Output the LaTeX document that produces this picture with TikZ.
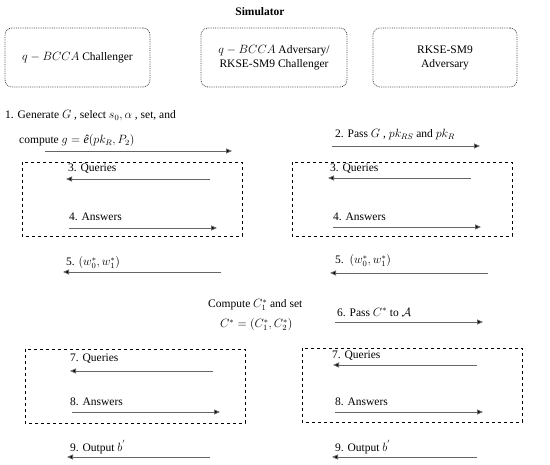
\documentclass[tikz,border=0pt]{standalone}
\usepackage{fontspec}
\setmainfont{Liberation Serif}
\usetikzlibrary{arrows.meta}
\tikzset{
  party/.style={draw=black!75, densely dotted, line width=0.8pt, rounded corners=7pt, align=center, font=\fontsize{11.5}{14}\selectfont},
  phase/.style={draw=black, dashed, line width=0.8pt},
  msg/.style={draw=black!60, line width=0.9pt, -{Triangle[length=6pt,width=5pt,fill=black]}},
  lbl/.style={anchor=west, inner sep=0pt, font=\fontsize{11.5}{13}\selectfont},
}
\begin{document}
\begin{tikzpicture}[x=1pt,y=-1pt]
\useasboundingbox (0,0) rectangle (550,465);
\node[font=\bfseries\fontsize{11.5}{13}\selectfont] (title) at (260,12) {Simulator};
\node[party, minimum width=145pt, minimum height=59pt] (p1) at (77.5,57.5) {$q-BCCA$ Challenger};
\node[party, minimum width=146pt, minimum height=59pt] (p2) at (274,57.5) {$q-BCCA$ Adversary/\\RKSE-SM9 Challenger};
\node[party, minimum width=144pt, minimum height=59pt] (p3) at (445,57.5) {RKSE-SM9\\Adversary};

% step 1
\node[lbl] (t1a) at (5,116) {1. Generate {\large$G$} , select $s_0,\alpha$ , set, and};
\node[lbl] (t1b) at (19,141) {compute $g=\mbox{\itshape\large ê}(pk_R,P_2)$};
\coordinate (a1s) at (45,151); \coordinate (a1e) at (232,151);
\draw[msg] (a1s) -- (a1e);
% step 2
\node[lbl] (t2) at (335,135) {2. Pass {\large$G$} , {\large$pk_{RS}$} and {\large$pk_R$}};
\coordinate (a2s) at (332,146); \coordinate (a2e) at (480,146);
\draw[msg] (a2s) -- (a2e);

% left phase 1
\draw[phase] (22,162) rectangle (242,236);
\node[lbl] (t3l) at (68,169) {3. Queries};
\coordinate (a3ls) at (210,179); \coordinate (a3le) at (66,179);
\draw[msg] (a3ls) -- (a3le);
\node[lbl] (t4l) at (69,217) {4. Answers};
\coordinate (a4ls) at (69,228); \coordinate (a4le) at (217,228);
\draw[msg] (a4ls) -- (a4le);
% right phase 1
\draw[phase] (292,162) rectangle (512,236);
\node[lbl] (t3r) at (330,169) {3. Queries};
\coordinate (a3rs) at (471,178); \coordinate (a3re) at (328,178);
\draw[msg] (a3rs) -- (a3re);
\node[lbl] (t4r) at (333,217) {4. Answers};
\coordinate (a4rs) at (333,227); \coordinate (a4re) at (481,227);
\draw[msg] (a4rs) -- (a4re);

% step 5
\node[lbl] (t5l) at (66,263) {5. $\left(w_0^*,w_1^*\right)$};
\coordinate (a5ls) at (221,272); \coordinate (a5le) at (63,272);
\draw[msg] (a5ls) -- (a5le);
\node[lbl] (t5r) at (335,261) {5.\ \ $\left(w_0^*,w_1^*\right)$};
\coordinate (a5rs) at (488,273); \coordinate (a5re) at (330,273);
\draw[msg] (a5rs) -- (a5re);

% compute
\node[lbl] (tc1) at (208,305) {Compute {\large$C_1^*$} and set};
\node[lbl] (tc2) at (220,325) {$C^*=\left(C_1^*,C_2^*\right)$};

% step 6
\node[lbl] (t6) at (337,312) {6. Pass $C^*$ to {\large$\mathcal{A}$}};
\coordinate (a6s) at (335,322); \coordinate (a6e) at (483,322);
\draw[msg] (a6s) -- (a6e);

% left phase 2
\draw[phase] (25,349) rectangle (245,423);
\node[lbl] (t7l) at (70,359) {7. Queries};
\coordinate (a7ls) at (213,371); \coordinate (a7le) at (70,371);
\draw[msg] (a7ls) -- (a7le);
\node[lbl] (t8l) at (70,402) {8. Answers};
\coordinate (a8ls) at (72,412); \coordinate (a8le) at (220,412);
\draw[msg] (a8ls) -- (a8le);
% right phase 2
\draw[phase] (302,348) rectangle (522,422);
\node[lbl] (t7r) at (332,356) {7. Queries};
\coordinate (a7rs) at (477,365); \coordinate (a7re) at (333,365);
\draw[msg] (a7rs) -- (a7re);
\node[lbl] (t8r) at (335,402) {8. Answers};
\coordinate (a8rs) at (335,412); \coordinate (a8re) at (483,412);
\draw[msg] (a8rs) -- (a8re);

% step 9
\node[lbl] (t9l) at (70,447) {9. Output {\large$b^{'}$}};
\coordinate (a9ls) at (210,457); \coordinate (a9le) at (67,457);
\draw[msg] (a9ls) -- (a9le);
\node[lbl] (t9r) at (335,447) {9. Output {\large$b^{'}$}};
\coordinate (a9rs) at (477,457); \coordinate (a9re) at (332,457);
\draw[msg] (a9rs) -- (a9re);
\end{tikzpicture}
\end{document}
